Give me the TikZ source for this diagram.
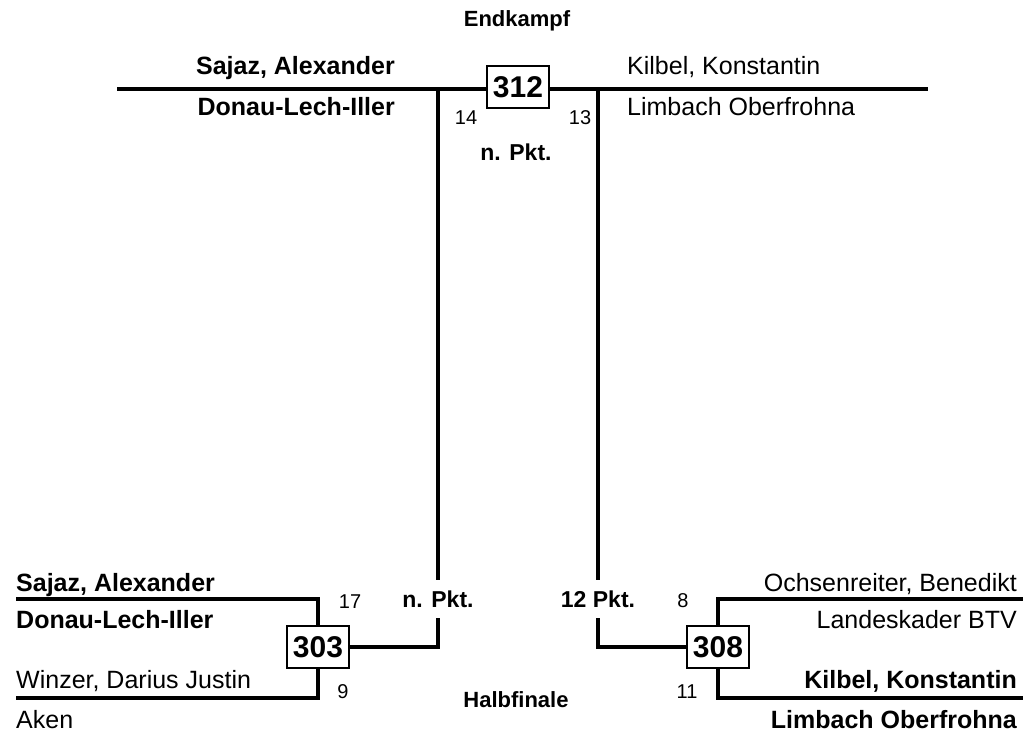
\documentclass[tikz,border=0pt]{standalone}
\usepackage{fontspec}
\setmainfont{Liberation Sans}
\begin{document}
\begin{tikzpicture}[x=1pt,y=-1pt,
  nm/.style={font=\fontsize{25}{30}\selectfont, inner sep=0pt},
  nmb/.style={font=\bfseries\fontsize{25}{30}\selectfont, inner sep=0pt},
  num/.style={font=\fontsize{20}{24}\selectfont, inner sep=0pt, anchor=base},
  ttl/.style={font=\bfseries\fontsize{22}{26}\selectfont, inner sep=0pt, anchor=base},
  pk/.style={font=\bfseries\fontsize{23}{28}\selectfont, inner sep=0pt},
  win/.style={draw, line width=1.3pt, fill=white, minimum width=62pt, minimum height=42pt, inner sep=0pt, font=\bfseries\fontsize{30}{36}\selectfont},
  wire/.style={line width=3.2pt}
]
\useasboundingbox (0,0) rectangle (1023,736);

% coordinates for line ends
\coordinate (tl) at (117,89);
\coordinate (tr) at (928,89);
\coordinate (jl) at (438,89);
\coordinate (jr) at (598,89);
\coordinate (l1) at (16,599);
\coordinate (l2) at (16,698);
\coordinate (r1) at (1023,599);
\coordinate (r2) at (1023,698);

% labels on the verticals
\node[pk] (np1) at (438,599) {n. Pkt.};
\node[pk] (np2) at (598,599) {12 Pkt.};

% lines
\draw[wire] (tl) -- (tr);
\draw[wire] (jl) -- (438,580);
\draw[wire] (jr) -- (598,580);

% boxes
\node[win] (b312) at (518,87) {312};
\node[win] (b303) at (318,647) {303};
\node[win] (b308) at (718,647) {308};

\draw[wire] (l1) -| (b303.north);
\draw[wire] (l2) -| (b303.south);
\draw[wire] (b303.east) -| (438,618);
\draw[wire] (r1) -| (b308.north);
\draw[wire] (r2) -| (b308.south);
\draw[wire] (b308.west) -| (598,618);

% titles
\node[ttl] (t1) at (517,27) {Endkampf};
\node[ttl] (t2) at (516,707) {Halbfinale};

% final
\node[nmb, anchor=base east] (f1) at (395,74) {Sajaz, Alexander};
\node[nmb, anchor=base east] (f2) at (395,115) {Donau-Lech-Iller};
\node[nm, anchor=base west] (f3) at (627,74) {Kilbel, Konstantin};
\node[nm, anchor=base west] (f4) at (627,115) {Limbach Oberfrohna};
\node[num] (s14) at (466,124) {14};
\node[num] (s13) at (580,124) {13};
\node[pk, anchor=base] (np0) at (516,160) {n. Pkt.};

% semifinal left
\node[nmb, anchor=base west] (a1) at (16,591) {Sajaz, Alexander};
\node[nmb, anchor=base west] (a2) at (16,628) {Donau-Lech-Iller};
\node[nm, anchor=base west] (a3) at (16,688) {Winzer, Darius Justin};
\node[nm, anchor=base west] (a4) at (16,728) {Aken};
\node[num] (s17) at (350,608) {17};
\node[num] (s9) at (343,698) {9};

% semifinal right
\node[nm, anchor=base east] (c1) at (1017,591) {Ochsenreiter, Benedikt};
\node[nm, anchor=base east] (c2) at (1017,628) {Landeskader BTV};
\node[nmb, anchor=base east] (c3) at (1017,688) {Kilbel, Konstantin};
\node[nmb, anchor=base east] (c4) at (1017,728) {Limbach Oberfrohna};
\node[num] (s8) at (683,607) {8};
\node[num] (s11) at (687,698) {11};
\end{tikzpicture}
\end{document}
